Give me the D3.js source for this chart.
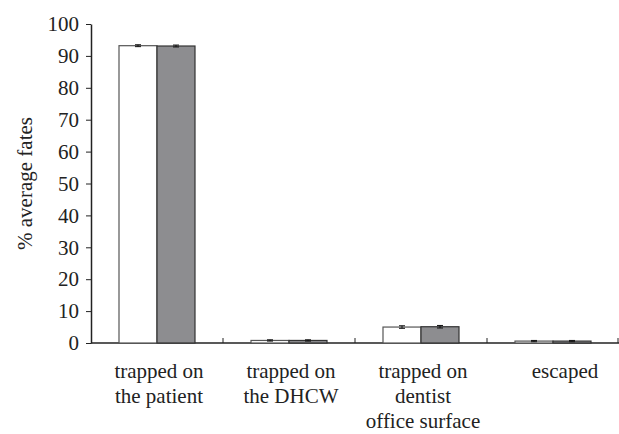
<!DOCTYPE html>
<html>
<head>
<meta charset="utf-8">
<script src="https://cdn.jsdelivr.net/npm/d3@7"></script>
<style>
    body { margin: 0; background: #fff; }
    svg text, svg tspan { font-family: "Liberation Serif", "Times New Roman", serif !important; }
</style>
</head>
<body>
<svg id="chart"></svg>
<script>
let categories = [["trapped on", "the patient"], ["trapped on", "the DHCW"], ["trapped on", "dentist", "office surface"], ["escaped"]];
let seriesA = [93.2, 0.8, 5.0, 0.6];
let seriesB = [93.1, 0.8, 5.1, 0.6];
let errA = [0.3, 0.2, 0.4, 0.2];
let errB = [0.3, 0.2, 0.4, 0.2];
let yTicks = [0, 10, 20, 30, 40, 50, 60, 70, 80, 90, 100];

let font = "Liberation Serif";
let width = 619, height = 434;
let margin = {top: 24, right: 0, bottom: 91, left: 91};

let svg = d3.select("#chart").attr("width", width).attr("height", height)
    .attr("font-family", font);

let x = d3.scaleBand().domain(d3.range(categories.length)).range([margin.left, width - margin.right]);
let y = d3.scaleLinear([0, 100], [height - margin.bottom, margin.top]);
let barW = 38;

let rows = categories.map((c, i) => ({i, a: seriesA[i], b: seriesB[i], ea: errA[i], eb: errB[i]}));

// y axis
let yAxis = svg.append("g")
    .attr("transform", `translate(${margin.left},0)`)
    .call(d3.axisLeft(y).tickValues(yTicks).tickSize(5).tickSizeOuter(0).tickPadding(7));
yAxis.attr("font-family", font).attr("font-size", 21);
yAxis.select(".domain").attr("stroke", "#222").attr("stroke-width", 1.5);
yAxis.selectAll(".tick line").attr("stroke", "#222");
yAxis.selectAll(".tick text").style("font-family", font, "important").attr("font-size", 21).attr("fill", "#222");

// x axis with ticks at band boundaries
let xAxis = svg.append("g").attr("transform", `translate(0,${y(0)})`);
xAxis.append("line").attr("x1", margin.left).attr("x2", width).attr("stroke", "#222").attr("stroke-width", 1.5);
xAxis.selectAll("line.tk").data(d3.range(1, categories.length + 1))
    .join("line").attr("class", "tk")
    .attr("x1", d => Math.min(x(d - 1) + x.bandwidth(), width - 1))
    .attr("x2", d => Math.min(x(d - 1) + x.bandwidth(), width - 1))
    .attr("y1", 0).attr("y2", -5).attr("stroke", "#222");

// bars
let g = svg.append("g");
g.selectAll("rect.a").data(rows).join("rect").attr("class", "a")
    .attr("x", d => x(d.i) + x.bandwidth() / 2 - barW)
    .attr("y", d => y(d.a)).attr("width", barW).attr("height", d => y(0) - y(d.a))
    .attr("fill", "#fff").attr("stroke", "#555").attr("stroke-width", 1.2);
g.selectAll("rect.b").data(rows).join("rect").attr("class", "b")
    .attr("x", d => x(d.i) + x.bandwidth() / 2)
    .attr("y", d => y(d.b)).attr("width", barW).attr("height", d => y(0) - y(d.b))
    .attr("fill", "#8d8d90").attr("stroke", "#333").attr("stroke-width", 1.2);

// error bars
let errs = rows.flatMap(d => [
    {cx: x(d.i) + x.bandwidth() / 2 - barW / 2, v: d.a, e: d.ea},
    {cx: x(d.i) + x.bandwidth() / 2 + barW / 2, v: d.b, e: d.eb}
]);
let eg = g.selectAll("g.err").data(errs).join("g").attr("class", "err").attr("stroke", "#111");
eg.append("line").attr("x1", d => d.cx).attr("x2", d => d.cx).attr("y1", d => y(d.v - d.e)).attr("y2", d => y(d.v + d.e));
eg.append("line").attr("x1", d => d.cx - 3).attr("x2", d => d.cx + 3).attr("y1", d => y(d.v + d.e)).attr("y2", d => y(d.v + d.e));
eg.append("line").attr("x1", d => d.cx - 3).attr("x2", d => d.cx + 3).attr("y1", d => y(d.v - d.e)).attr("y2", d => y(d.v - d.e));

// category labels
svg.append("g").selectAll("text").data(categories).join("text")
    .attr("text-anchor", "middle")
    .style("font-family", font, "important")
    .attr("font-size", 21)
    .attr("x", (d, i) => x(i) + x.bandwidth() / 2 + (i === 3 ? 12 : 2))
    .attr("y", y(0) + 35)
    .attr("fill", "#222")
    .selectAll("tspan").data(d => d).join("tspan")
    .attr("x", function () { return this.parentNode.getAttribute("x"); })
    .attr("dy", (d, j) => j === 0 ? 0 : 25)
    .text(d => d);

// y title
svg.append("text")
    .attr("transform", `translate(32,${y(50)}) rotate(-90)`)
    .attr("text-anchor", "middle")
    .style("font-family", font, "important")
    .attr("font-size", 21)
    .attr("fill", "#222")
    .text("% average fates");
</script>
</body>
</html>
